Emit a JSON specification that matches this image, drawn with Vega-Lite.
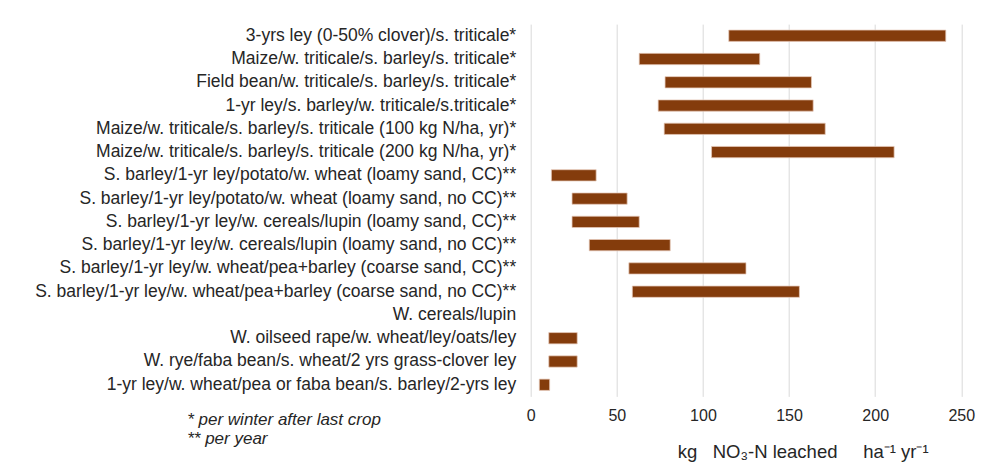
{
  "$schema": "https://vega.github.io/schema/vega-lite/v6.json",
  "autosize": "none",
  "width": 430.6,
  "height": 372.3,
  "padding": {"left": 530.7, "top": 24.1, "right": 35.7, "bottom": 73.6},
  "background": "#ffffff",
  "config": {
    "view": {"stroke": null},
    "font": "Liberation Sans"
  },
  "data": {
    "values": [
      {"rotation": "3-yrs ley (0-50% clover)/s. triticale*", "low": 115, "high": 241},
      {"rotation": "Maize/w. triticale/s. barley/s. triticale*", "low": 63, "high": 133},
      {"rotation": "Field bean/w. triticale/s. barley/s. triticale*", "low": 78, "high": 163},
      {"rotation": "1-yr ley/s. barley/w. triticale/s.triticale*", "low": 74, "high": 164},
      {"rotation": "Maize/w. triticale/s. barley/s. triticale (100 kg N/ha, yr)*", "low": 77.5, "high": 171},
      {"rotation": "Maize/w. triticale/s. barley/s. triticale (200 kg N/ha, yr)*", "low": 105, "high": 211},
      {"rotation": "S. barley/1-yr ley/potato/w. wheat (loamy sand, CC)**", "low": 12, "high": 38},
      {"rotation": "S. barley/1-yr ley/potato/w. wheat (loamy sand, no CC)**", "low": 24, "high": 56},
      {"rotation": "S. barley/1-yr ley/w. cereals/lupin (loamy sand, CC)**", "low": 24, "high": 63},
      {"rotation": "S. barley/1-yr ley/w. cereals/lupin (loamy sand, no CC)**", "low": 34, "high": 81},
      {"rotation": "S. barley/1-yr ley/w. wheat/pea+barley (coarse sand, CC)**", "low": 57, "high": 125},
      {"rotation": "S. barley/1-yr ley/w. wheat/pea+barley (coarse sand, no CC)**", "low": 59, "high": 156},
      {"rotation": "W. cereals/lupin", "low": null, "high": null},
      {"rotation": "W. oilseed rape/w. wheat/ley/oats/ley", "low": 10.5, "high": 27},
      {"rotation": "W. rye/faba bean/s. wheat/2 yrs grass-clover ley", "low": 10.5, "high": 27},
      {"rotation": "1-yr ley/w. wheat/pea or faba bean/s. barley/2-yrs ley", "low": 5, "high": 11}
    ]
  },
  "mark": {"type": "bar", "color": "#843C0C", "stroke": "#e6c8b8", "strokeWidth": 0.75},
  "encoding": {
    "y": {
      "field": "rotation",
      "type": "nominal",
      "sort": null,
      "scale": {
        "domain": [
          "3-yrs ley (0-50% clover)/s. triticale*",
          "Maize/w. triticale/s. barley/s. triticale*",
          "Field bean/w. triticale/s. barley/s. triticale*",
          "1-yr ley/s. barley/w. triticale/s.triticale*",
          "Maize/w. triticale/s. barley/s. triticale (100 kg N/ha, yr)*",
          "Maize/w. triticale/s. barley/s. triticale (200 kg N/ha, yr)*",
          "S. barley/1-yr ley/potato/w. wheat (loamy sand, CC)**",
          "S. barley/1-yr ley/potato/w. wheat (loamy sand, no CC)**",
          "S. barley/1-yr ley/w. cereals/lupin (loamy sand, CC)**",
          "S. barley/1-yr ley/w. cereals/lupin (loamy sand, no CC)**",
          "S. barley/1-yr ley/w. wheat/pea+barley (coarse sand, CC)**",
          "S. barley/1-yr ley/w. wheat/pea+barley (coarse sand, no CC)**",
          "W. cereals/lupin",
          "W. oilseed rape/w. wheat/ley/oats/ley",
          "W. rye/faba bean/s. wheat/2 yrs grass-clover ley",
          "1-yr ley/w. wheat/pea or faba bean/s. barley/2-yrs ley"
        ],
        "paddingInner": 0.515,
        "paddingOuter": 0.2575
      },
      "axis": {
        "title": ["* per winter after last crop", "** per year"],
        "titleAngle": 0,
        "titleAlign": "left",
        "titleBaseline": "alphabetic",
        "titleX": -344,
        "titleY": 400,
        "titleFontStyle": "italic",
        "titleFontWeight": "normal",
        "titleFontSize": 17,
        "titleLineHeight": 19,
        "titleColor": "#262626",
        "domain": false,
        "ticks": false,
        "grid": false,
        "labelPadding": 15,
        "labelFontSize": 17.5,
        "labelColor": "#262626",
        "labelLimit": 0
      }
    },
    "x": {
      "field": "low",
      "type": "quantitative",
      "scale": {"domain": [0, 250], "nice": false, "zero": true},
      "axis": {
        "title": "kg\u00a0\u00a0\u00a0NO₃-N leached\u00a0\u00a0\u00a0\u00a0\u00a0ha⁻¹ yr⁻¹",
        "titleX": 272,
        "titleY": 61,
        "titleAlign": "center",
        "titleBaseline": "alphabetic",
        "titleFontSize": 18.5,
        "titleFontWeight": "normal",
        "titleColor": "#262626",
        "values": [0, 50, 100, 150, 200, 250],
        "domain": false,
        "ticks": false,
        "grid": true,
        "gridColor": "#d9d9d9",
        "gridWidth": 1,
        "labelPadding": 11.5,
        "labelFlush": false,
        "labelFontSize": 16,
        "labelColor": "#262626"
      }
    },
    "x2": {"field": "high"}
  }
}
